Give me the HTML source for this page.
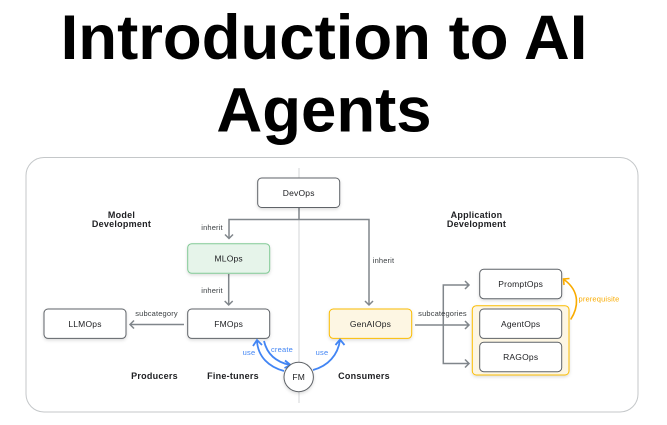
<!DOCTYPE html>
<html><head><meta charset="utf-8"><style>
html,body{margin:0;padding:0;background:#fff;width:667px;height:425px;overflow:hidden}
svg{display:block;position:absolute;left:0;top:0}
text{font-family:"Liberation Sans",sans-serif}
.t{font-weight:700;font-size:63.500px;fill:#000;text-anchor:middle}
.n{font-size:8.500px;fill:#202124;text-anchor:middle;letter-spacing:.2px}
.s{font-size:7.500px;fill:#3c4043;text-anchor:middle;letter-spacing:.15px}
.h{font-size:9px;font-weight:700;fill:#202124;text-anchor:middle;letter-spacing:.25px}
.b{font-size:7.500px;fill:#4285f4;text-anchor:middle;letter-spacing:.2px}
.o{font-size:7.500px;fill:#f9ab00;text-anchor:middle;letter-spacing:.15px}
.box{fill:#fff;stroke:#5f6368;stroke-width:1}
.l{fill:none;stroke:#80868b;stroke-width:1.500}
.bl{fill:none;stroke:#4285f4;stroke-width:1.800}
.or{fill:none;stroke:#f9ab00;stroke-width:1.600}
.d{filter:blur(.3px)}
</style></head><body>
<svg width="667" height="425" viewBox="0 0 667 425" xmlns="http://www.w3.org/2000/svg">
<defs><filter id="sh" x="-20%" y="-20%" width="140%" height="150%"><feDropShadow dx="0" dy="1.500" stdDeviation="1.500" flood-color="#000" flood-opacity=".14"/></filter></defs>
<text class="t" x="324" y="59">Introduction to AI</text>
<text class="t" x="324" y="131.700">Agents</text>
<g class="d">
<rect x="26" y="157.500" width="612" height="254.500" rx="18" fill="#fff" stroke="#c4c7c9" stroke-width="1"/>
<line x1="299" y1="168" x2="299" y2="403" stroke="#d3d5d7" stroke-width="1"/>

<path class="l" d="M299 207V219.500M229 238V219.500H369V305"/>
<path class="l" d="M225 234.500L229 238.500L233 234.500M365 301L369 305L373 301"/>
<path class="l" d="M228.700 274V305M224.700 301L228.700 305L232.700 301"/>
<path class="l" d="M184 324.500H130M134 320.500L130 324.500L134 328.500"/>
<path class="l" d="M415 325H469M465 321L469 325L465 329"/>
<path class="l" d="M469 285H443.300V363.500H469M465 281L469 285L465 289M465 359.500L469 363.500L465 367.500"/>

<rect x="472.300" y="305.700" width="96.700" height="69.300" rx="4" fill="#fdf6e3" stroke="#fbbc04" stroke-width="1" filter="url(#sh)"/>
<rect x="257.700" y="178" width="82" height="29.500" rx="4" class="box" filter="url(#sh)"/>
<rect x="187.700" y="243.700" width="82" height="29.600" rx="4" fill="#e6f4ea" stroke="#81c995" filter="url(#sh)"/>
<rect x="187.700" y="309" width="82" height="29.400" rx="4" class="box" filter="url(#sh)"/>
<rect x="44" y="309" width="82" height="29.400" rx="4" class="box" filter="url(#sh)"/>
<rect x="329.300" y="309" width="82.400" height="29.400" rx="4" fill="#fdf6e3" stroke="#fbbc04" filter="url(#sh)"/>
<rect x="479.700" y="269.300" width="82" height="29.400" rx="4" class="box" filter="url(#sh)"/>
<rect x="479.700" y="309" width="82" height="29.400" rx="4" class="box"/>
<rect x="479.700" y="342.300" width="82" height="29.400" rx="4" class="box"/>

<path class="or" d="M570.700 319.500C578 308 581 292 564 279.500M564 285L563.500 279L569.500 278.500"/>

<path class="bl" d="M284 371C269 367 258 357 257 341"/>
<path class="bl" d="M253 346L257 340L262 345"/>
<path class="bl" d="M264 341C267 354 276 362 290 365"/>
<path class="bl" d="M285 360.500L290.500 365L284.500 368"/>
<path class="bl" d="M313 370C328 366 338 355 340 340"/>
<path class="bl" d="M335.500 345L340 339.500L344.500 345"/>
<circle cx="298.700" cy="377" r="14.700" fill="#fff" stroke="#5f6368" filter="url(#sh)"/>

<text class="n" x="298.700" y="196">DevOps</text>
<text class="n" x="228.700" y="261.500">MLOps</text>
<text class="n" x="228.700" y="327">FMOps</text>
<text class="n" x="85" y="327">LLMOps</text>
<text class="n" x="370.500" y="327">GenAIOps</text>
<text class="n" x="520.700" y="287">PromptOps</text>
<text class="n" x="520.700" y="327">AgentOps</text>
<text class="n" x="520.700" y="360">RAGOps</text>
<text class="n" x="298.700" y="380">FM</text>

<text class="h" x="121.500" y="218">Model</text>
<text class="h" x="121.500" y="227">Development</text>
<text class="h" x="476.500" y="218">Application</text>
<text class="h" x="476.500" y="227">Development</text>
<text class="h" x="154.500" y="379">Producers</text>
<text class="h" x="233" y="379">Fine-tuners</text>
<text class="h" x="364" y="379">Consumers</text>

<text class="s" x="212" y="230">inherit</text>
<text class="s" x="212" y="293">inherit</text>
<text class="s" x="383.500" y="263">inherit</text>
<text class="s" x="156.500" y="316">subcategory</text>
<text class="s" x="442.500" y="316">subcategories</text>
<text class="b" x="249" y="355">use</text>
<text class="b" x="282" y="352">create</text>
<text class="b" x="322" y="355">use</text>
<text class="o" x="599" y="301.500">prerequisite</text>
</g>
</svg>
</body></html>
